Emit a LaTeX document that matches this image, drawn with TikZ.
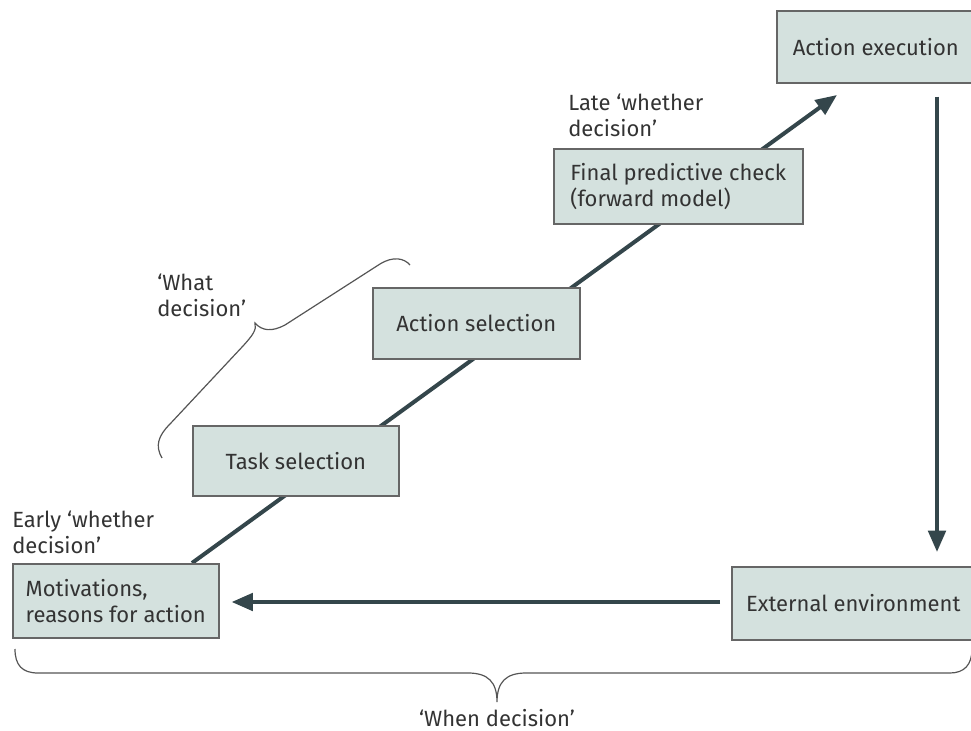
\documentclass[tikz,border=0pt]{standalone}
\usepackage{fontspec}
\setmainfont{Fira Sans}
\usetikzlibrary{arrows.meta}
\definecolor{boxfill}{HTML}{D4E1DE}
\definecolor{boxline}{HTML}{666666}
\definecolor{arrowc}{HTML}{34464B}
\definecolor{txt}{HTML}{333333}
\definecolor{bracec}{HTML}{555555}
\begin{document}
\begin{tikzpicture}[x=0.75pt,y=-0.75pt,
  font=\fontsize{16.5}{19.5}\selectfont, text=txt,
  box/.style={draw=boxline, line width=1.2pt, fill=boxfill, inner sep=0pt, anchor=north west, align=left},
  arr/.style={draw=arrowc, line width=3pt, -{Triangle[length=16pt,width=13pt]}},
  brc/.style={draw=bracec, line width=0.9pt},
  lbl/.style={anchor=west, align=left, inner sep=0pt}]
\useasboundingbox (0,0) rectangle (971,731);

% diagonal arrow (behind boxes)
\coordinate (d0) at (192,563);
\coordinate (d1) at (837,95);
\draw[arr] (d0) -- (d1);

% boxes
\node[box, minimum width=148.5pt, minimum height=54pt] (exec) at (776,10) {Action execution};
\node[box, minimum width=186.75pt, minimum height=56.25pt] (final) at (553,148) {Final predictive check\\(forward model)};
\node[box, minimum width=155.25pt, minimum height=53.25pt] (actsel) at (372,287) {Action selection};
\node[box, minimum width=154.5pt, minimum height=52.5pt] (task) at (192,425) {Task selection};
\node[box, minimum width=154.5pt, minimum height=55.5pt] (motiv) at (12,563) {Motivations,\\reasons for action};
\node[box, minimum width=182.25pt, minimum height=54.75pt] (ext) at (731,566) {External environment};

% vertical and horizontal arrows
\coordinate (v) at (937,0);
\coordinate (h) at (0,602);
\draw[arr, shorten <=9.75pt, shorten >=10.5pt] (exec.south -| v) -- (ext.north -| v);
\draw[arr, shorten <=8.25pt, shorten >=9pt] (ext.west |- h) -- (motiv.east |- h);

% labels
\node[lbl] (late) at (568,115) {Late ‘whether\\decision’};
\node[lbl] (early) at (12,532) {Early ‘whether\\decision’};
\node[lbl] (what) at (157,295) {‘What\\decision’};
\node (when) at (497,718) {‘When decision’};

% 'What decision' brace
\draw[brc] (162,458) .. controls (155,446) and (158,436) .. (170,424)
  -- (243,346) .. controls (252,336) and (257,330) .. (255,323)
  .. controls (262,331) and (272,332) .. (285,325)
  -- (380,264) .. controls (393,256) and (404,258) .. (410,265);

% 'When decision' brace
\draw[brc] (15,649) .. controls (15,665) and (22,673) .. (38,673)
  -- (468,673) .. controls (488,673) and (497,682) .. (497,702)
  .. controls (497,682) and (506,673) .. (526,673)
  -- (950,673) .. controls (964,673) and (972,665) .. (972,649);
\end{tikzpicture}
\end{document}
